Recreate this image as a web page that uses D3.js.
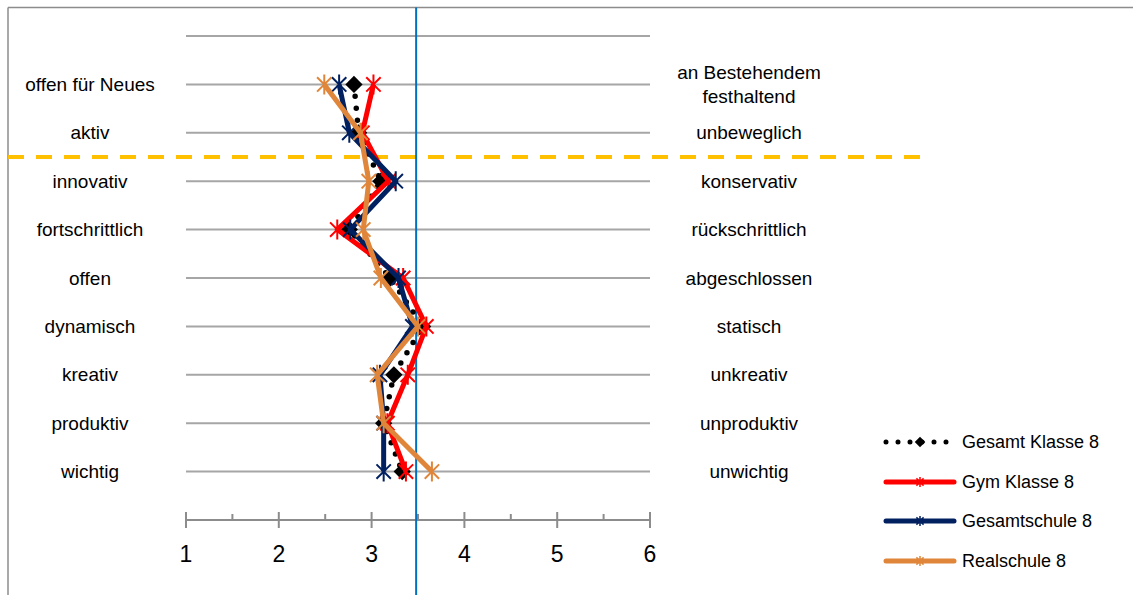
<!DOCTYPE html>
<html>
<head>
<meta charset="utf-8">
<script src="https://cdn.jsdelivr.net/npm/d3@7"></script>
<style>
  html, body { margin: 0; padding: 0; background: #fff; }
  svg { display: block; font-family: "Liberation Sans", Arial, sans-serif; }
</style>
</head>
<body>
<svg id="chart" width="1133" height="595"></svg>
<script>
// Semantic differential: positive pole (left) vs. negative pole (right)
const leftLabels = ["offen für Neues", "aktiv", "innovativ", "fortschrittlich", "offen",
                    "dynamisch", "kreativ", "produktiv", "wichtig"];
const rightLabels = [["an Bestehendem", "festhaltend"], ["unbeweglich"], ["konservativ"],
                     ["rückschrittlich"], ["abgeschlossen"], ["statisch"], ["unkreativ"],
                     ["unproduktiv"], ["unwichtig"]];

// Mean ratings per item (scale 1–6)
const gesamtKlasse8 = [2.81, 2.86, 3.10, 2.76, 3.20, 3.55, 3.24, 3.13, 3.33];
const gymKlasse8    = [3.02, 2.90, 3.18, 2.63, 3.34, 3.59, 3.39, 3.17, 3.37];
const gesamtschule8 = [2.65, 2.76, 3.26, 2.77, 3.29, 3.44, 3.09, 3.13, 3.13];
const realschule8   = [2.49, 2.88, 2.97, 2.91, 3.10, 3.50, 3.06, 3.13, 3.65];

const seriesNames = ["Gesamt Klasse 8", "Gym Klasse 8", "Gesamtschule 8", "Realschule 8"];
const xTicks = [1, 2, 3, 4, 5, 6];
const scaleMidline = 3.48;

const series = [
  { name: seriesNames[0], values: gesamtKlasse8, color: "#000000", kind: "dotted" },
  { name: seriesNames[1], values: gymKlasse8,    color: "#FF0000", kind: "star" },
  { name: seriesNames[2], values: gesamtschule8, color: "#002060", kind: "star" },
  { name: seriesNames[3], values: realschule8,   color: "#E0863A", kind: "star" }
];

const svg = d3.select("#chart");

const x = d3.scaleLinear().domain([1, 6]).range([186, 650]);
// Row index: 0 = empty top row, 1..9 = items, 10 = axis row
const y = d3.scaleLinear().domain([0, 10]).range([36, 520]);

// Outer frame (top and left edges)
svg.append("line").attr("x1", 8).attr("x2", 1133).attr("y1", 7.5).attr("y2", 7.5)
  .attr("stroke", "#8c8c8c").attr("stroke-width", 1.5);
svg.append("line").attr("x1", 8).attr("x2", 8).attr("y1", 7.5).attr("y2", 595)
  .attr("stroke", "#8c8c8c").attr("stroke-width", 1.5);

// Horizontal gridlines
svg.append("g").selectAll("line").data(d3.range(0, 10)).join("line")
  .attr("x1", x(1)).attr("x2", x(6))
  .attr("y1", d => y(d)).attr("y2", d => y(d))
  .attr("stroke", "#a6a6a6").attr("stroke-width", 2);

// Bottom axis with major and minor ticks
const axisY = y(10);
const axisG = svg.append("g").attr("transform", `translate(0,${axisY})`);
axisG.append("line").attr("x1", x(1)).attr("x2", x(6))
  .attr("stroke", "#8c8c8c").attr("stroke-width", 2);
axisG.selectAll("line.major").data(xTicks).join("line").attr("class", "major")
  .attr("x1", d => x(d)).attr("x2", d => x(d)).attr("y1", -8).attr("y2", 8)
  .attr("stroke", "#8c8c8c").attr("stroke-width", 2);
axisG.selectAll("line.minor").data(xTicks.slice(0, -1).map(d => d + 0.5)).join("line").attr("class", "minor")
  .attr("x1", d => x(d)).attr("x2", d => x(d)).attr("y1", -6).attr("y2", 0)
  .attr("stroke", "#8c8c8c").attr("stroke-width", 2);
axisG.selectAll("text").data(xTicks).join("text")
  .attr("x", d => x(d)).attr("y", 36)
  .attr("text-anchor", "middle").attr("dominant-baseline", "middle")
  .attr("font-size", 23).attr("fill", "#000")
  .text(d => d);

// Item labels
svg.append("g").selectAll("text").data(leftLabels).join("text")
  .attr("x", 90).attr("y", (d, i) => y(i + 1) + 1.5)
  .attr("text-anchor", "middle").attr("dominant-baseline", "middle")
  .attr("font-size", 19).attr("fill", "#000")
  .text(d => d);

const rightG = svg.append("g");
rightLabels.forEach((lines, i) => {
  const t = rightG.append("text")
    .attr("x", 749).attr("text-anchor", "middle").attr("dominant-baseline", "middle")
    .attr("font-size", 19).attr("fill", "#000");
  const off = (lines.length - 1) * 12;
  lines.forEach((ln, j) => {
    t.append("tspan").attr("x", 749).attr("y", y(i + 1) + 1.5 - off + j * 24).text(ln);
  });
});

// Separator between the first two items and the rest
svg.append("line").attr("x1", 8).attr("x2", 920)
  .attr("y1", y(2.5)).attr("y2", y(2.5))
  .attr("stroke", "#FFC000").attr("stroke-width", 4)
  .attr("stroke-dasharray", "16 12");

// Scale midline
svg.append("line").attr("x1", x(scaleMidline)).attr("x2", x(scaleMidline))
  .attr("y1", 7.5).attr("y2", 595)
  .attr("stroke", "#0070C0").attr("stroke-width", 2);

// Star marker: X plus vertical bar
function starPath(cx, cy, r) {
  const d = r * 0.72;
  return `M${cx - d},${cy - d}L${cx + d},${cy + d}M${cx - d},${cy + d}L${cx + d},${cy - d}` +
         `M${cx},${cy - r}L${cx},${cy + r}`;
}

const line = d3.line().x(d => x(d.v)).y(d => y(d.i + 1));

series.forEach(s => {
  const pts = s.values.map((v, i) => ({ v, i }));
  const g = svg.append("g");
  if (s.kind === "dotted") {
    g.append("path").attr("d", line(pts)).attr("fill", "none")
      .attr("stroke", s.color).attr("stroke-width", 5.5)
      .attr("stroke-linecap", "round").attr("stroke-dasharray", "0 12");
    g.selectAll("path.m").data(pts).join("path").attr("class", "m")
      .attr("d", d => d3.symbol(d3.symbolDiamond2, 190)())
      .attr("transform", d => `translate(${x(d.v)},${y(d.i + 1)})`)
      .attr("fill", s.color);
  } else {
    g.append("path").attr("d", line(pts)).attr("fill", "none")
      .attr("stroke", s.color).attr("stroke-width", 5)
      .attr("stroke-linejoin", "round");
    g.selectAll("path.m").data(pts).join("path").attr("class", "m")
      .attr("d", d => starPath(x(d.v), y(d.i + 1), 10))
      .attr("fill", "none").attr("stroke", s.color).attr("stroke-width", 2);
  }
});

// Legend
const legend = svg.append("g");
const legendY = [442, 482, 521, 561];
series.forEach((s, k) => {
  const ly = legendY[k];
  if (s.kind === "dotted") {
    legend.append("line").attr("x1", 886).attr("x2", 954).attr("y1", ly).attr("y2", ly)
      .attr("stroke", s.color).attr("stroke-width", 5)
      .attr("stroke-linecap", "round").attr("stroke-dasharray", "0 12");
    legend.append("path").attr("d", d3.symbol(d3.symbolDiamond2, 70)())
      .attr("transform", `translate(920,${ly})`).attr("fill", s.color);
  } else {
    legend.append("line").attr("x1", 886).attr("x2", 954).attr("y1", ly).attr("y2", ly)
      .attr("stroke", s.color).attr("stroke-width", 5).attr("stroke-linecap", "round");
    legend.append("path").attr("d", starPath(920, ly, 5))
      .attr("fill", "none").attr("stroke", s.color).attr("stroke-width", 1.5);
  }
  legend.append("text").attr("x", 962).attr("y", ly + 1)
    .attr("dominant-baseline", "middle").attr("font-size", 18).attr("fill", "#000")
    .text(s.name);
});
</script>
</body>
</html>
